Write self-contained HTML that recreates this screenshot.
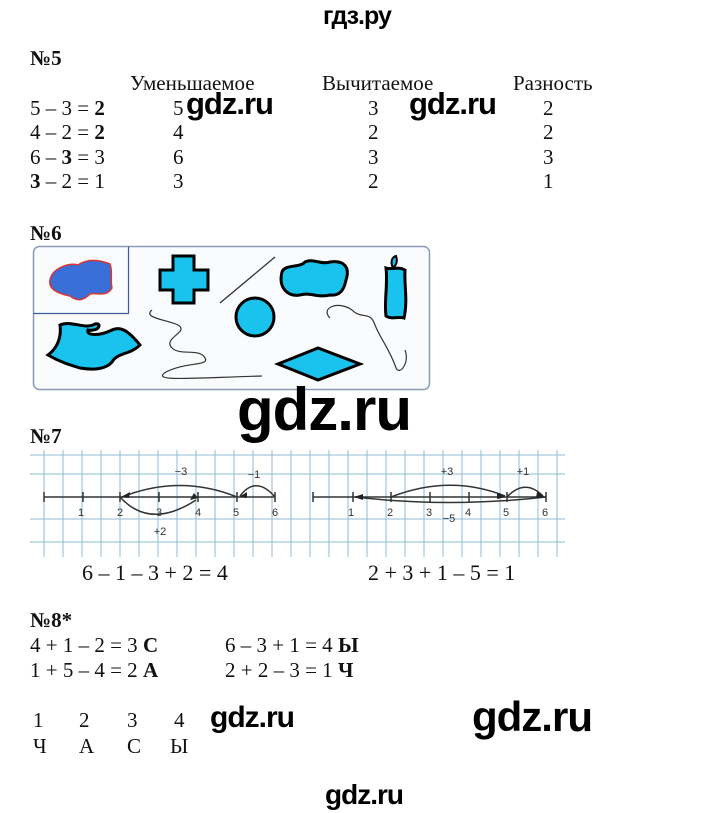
<!DOCTYPE html>
<html><head><meta charset="utf-8"><style>
body{margin:0;width:720px;height:813px;background:#fff;position:relative;overflow:hidden;font-family:"Liberation Serif",serif;color:#111}
.t{position:absolute;white-space:nowrap;font-size:21px;line-height:20px}
.w{position:absolute;white-space:nowrap;font-family:"Liberation Sans",sans-serif;font-weight:bold;color:#000;letter-spacing:-1px}
b{font-weight:bold}
</style></head><body>
<div class="w" style="left:323px;top:2px;font-size:25px;line-height:28px">гдз.ру</div>

<div class="t" style="left:30px;top:48px"><b>№5</b></div>
<div class="t" style="left:130px;top:73px">Уменьшаемое</div>
<div class="t" style="left:322px;top:73px">Вычитаемое</div>
<div class="t" style="left:513px;top:73px">Разность</div>
<div class="t" style="left:30px;top:98px">5 – 3 = <b>2</b></div>
<div class="t" style="left:30px;top:122px">4 – 2 = <b>2</b></div>
<div class="t" style="left:30px;top:147px">6 – <b>3</b> = 3</div>
<div class="t" style="left:30px;top:171px"><b>3</b> – 2 = 1</div>
<div class="t" style="left:173px;top:98px">5</div><div class="t" style="left:173px;top:122px">4</div><div class="t" style="left:173px;top:147px">6</div><div class="t" style="left:173px;top:171px">3</div>
<div class="t" style="left:368px;top:98px">3</div><div class="t" style="left:368px;top:122px">2</div><div class="t" style="left:368px;top:147px">3</div><div class="t" style="left:368px;top:171px">2</div>
<div class="t" style="left:543px;top:98px">2</div><div class="t" style="left:543px;top:122px">2</div><div class="t" style="left:543px;top:147px">3</div><div class="t" style="left:543px;top:171px">1</div>
<div class="w" style="left:186px;top:88px;font-size:31px;line-height:32px">gdz.ru</div>
<div class="w" style="left:409px;top:88px;font-size:31px;line-height:32px">gdz.ru</div>

<div class="t" style="left:30px;top:223px"><b>№6</b></div>
<svg style="position:absolute;left:0;top:0" width="720" height="813">
<rect x="33.5" y="246.5" width="396" height="143" rx="6" fill="#fafbfc" stroke="#8a9bb8" stroke-width="1.5"/>
<path d="M33.5 313.5H128.5V246.5" fill="none" stroke="#3d5a9a" stroke-width="1.2"/>
<path d="M50 280C52 268 70 262 78 265C88 258 100 260 110 264C113 272 110 280 112 288C106 298 96 292 90 294C84 300 78 302 70 296C60 294 48 290 50 280Z" fill="#3a6fd8" stroke="#d33" stroke-width="1.5"/>
<path d="M173 256H194V270H208V290H194V303H173V290H160V270H173Z" fill="#19c3ee" stroke="#000" stroke-width="3"/>
<line x1="220" y1="303" x2="275" y2="257" stroke="#333" stroke-width="1.3"/>
<path d="M282 272C285 264 300 268 305 262C312 258 322 265 330 262C345 260 350 268 346 280C344 290 340 296 330 295C318 298 310 292 300 295C288 297 278 288 282 272Z" fill="#19c3ee" stroke="#000" stroke-width="3"/>
<path d="M386 268C392 270 398 266 405 270C404 285 408 300 404 318C398 316 392 320 386 316C384 300 388 285 386 268Z" fill="#19c3ee" stroke="#000" stroke-width="3"/>
<path d="M393 268C390 262 392 257 396 256C398 262 396 265 393 268" fill="#19c3ee" stroke="#000" stroke-width="2"/>
<path d="M60 325C72 320 85 330 95 324C102 322 100 332 88 330C86 336 100 336 112 330C120 326 128 330 140 345C130 355 118 352 112 362C105 370 92 370 80 368C70 365 60 362 48 355C55 350 62 340 60 325Z" fill="#19c3ee" stroke="#000" stroke-width="3"/>
<path d="M152 310C142 318 168 320 178 325C190 332 162 338 172 348C180 356 200 348 205 358C210 366 185 362 166 372C150 382 190 378 262 376" fill="none" stroke="#333" stroke-width="1.2"/>
<circle cx="255" cy="317" r="19" fill="#19c3ee" stroke="#000" stroke-width="3"/>
<path d="M278 364L318 348L360 364L318 380Z" fill="#19c3ee" stroke="#000" stroke-width="3"/>
<path d="M330 318C320 308 338 300 352 310C362 320 370 310 375 325C380 338 390 350 396 368C400 376 410 362 405 350" fill="none" stroke="#333" stroke-width="1.2"/>
<g stroke="#8fbcd6" stroke-width="1">
<line x1="30" y1="455" x2="565" y2="455"/><line x1="30" y1="474" x2="565" y2="474"/><line x1="30" y1="519" x2="565" y2="519"/><line x1="30" y1="542" x2="565" y2="542"/>
<line x1="44" y1="450" x2="44" y2="557"/><line x1="63" y1="450" x2="63" y2="557"/><line x1="82" y1="450" x2="82" y2="557"/><line x1="101" y1="450" x2="101" y2="557"/><line x1="120" y1="450" x2="120" y2="557"/><line x1="139" y1="450" x2="139" y2="557"/><line x1="158" y1="450" x2="158" y2="557"/><line x1="177" y1="450" x2="177" y2="557"/><line x1="196" y1="450" x2="196" y2="557"/><line x1="215" y1="450" x2="215" y2="557"/><line x1="234" y1="450" x2="234" y2="557"/><line x1="253" y1="450" x2="253" y2="557"/><line x1="272" y1="450" x2="272" y2="557"/><line x1="291" y1="450" x2="291" y2="557"/><line x1="310" y1="450" x2="310" y2="557"/><line x1="329" y1="450" x2="329" y2="557"/><line x1="348" y1="450" x2="348" y2="557"/><line x1="367" y1="450" x2="367" y2="557"/><line x1="386" y1="450" x2="386" y2="557"/><line x1="405" y1="450" x2="405" y2="557"/><line x1="424" y1="450" x2="424" y2="557"/><line x1="443" y1="450" x2="443" y2="557"/><line x1="462" y1="450" x2="462" y2="557"/><line x1="481" y1="450" x2="481" y2="557"/><line x1="500" y1="450" x2="500" y2="557"/><line x1="519" y1="450" x2="519" y2="557"/><line x1="538" y1="450" x2="538" y2="557"/><line x1="557" y1="450" x2="557" y2="557"/>
</g>
<g stroke="#333" stroke-width="1.5" fill="none">
<line x1="44" y1="497" x2="275" y2="497"/><line x1="313" y1="497" x2="546" y2="497"/>
<path d="M44 492v10M83 492v10M120 492v10M159 492v10M198 492v10M237 492v10M275 492v10M313 492v10M353 492v10M391 492v10M430 492v10M469 492v10M507 492v10M546 492v10"/>
<path d="M237 497Q180 474 122 497"/><path d="M275 497Q256 475 240 496"/>
<path d="M120 497Q150 530 196 500"/>
<path d="M391 497Q450 474 505 496"/><path d="M507 497Q525 478 543 496"/>
<path d="M546 497Q450 508 355 497"/>
</g>
<g fill="#222"><path d="M121 497l9 -5l-1 6z"/><path d="M239 497l8 -5l0 6z"/><path d="M198 498l-8 2l4 -7z"/><path d="M506 497l-9 -4l0 6z"/><path d="M545 497l-8 -5l-1 6z"/><path d="M354 497l9 -3l0 6z"/></g>
<g font-family="Liberation Sans,sans-serif" font-size="11" fill="#333" text-anchor="middle">
<text x="81" y="516">1</text><text x="120" y="516">2</text><text x="159" y="516">3</text><text x="198" y="516">4</text><text x="236" y="516">5</text><text x="275" y="516">6</text>
<text x="181" y="475">−3</text><text x="254" y="478">−1</text><text x="160" y="535">+2</text>
<text x="351" y="516">1</text><text x="390" y="516">2</text><text x="429" y="516">3</text><text x="468" y="516">4</text><text x="506" y="516">5</text><text x="545" y="516">6</text>
<text x="447" y="475">+3</text><text x="523" y="475">+1</text><text x="449" y="522">−5</text>
</g>
</svg>
<div class="w" style="left:237px;top:380px;font-size:60px;line-height:60px">gdz.ru</div>
<div class="t" style="left:30px;top:426px"><b>№7</b></div>
<div class="t" style="left:82px;top:563px;font-size:22px">6 – 1 – 3 + 2 = 4</div>
<div class="t" style="left:368px;top:563px;font-size:22px">2 + 3 + 1 – 5 = 1</div>

<div class="t" style="left:30px;top:610px"><b>№8*</b></div>
<div class="t" style="left:30px;top:635px">4 + 1 – 2 = 3 <b>С</b></div>
<div class="t" style="left:225px;top:635px">6 – 3 + 1 = 4 <b>Ы</b></div>
<div class="t" style="left:30px;top:660px">1 + 5 – 4 = 2 <b>А</b></div>
<div class="t" style="left:225px;top:660px">2 + 2 – 3 = 1 <b>Ч</b></div>
<div class="t" style="left:33px;top:710px">1</div><div class="t" style="left:79px;top:710px">2</div><div class="t" style="left:127px;top:710px">3</div><div class="t" style="left:174px;top:710px">4</div>
<div class="t" style="left:33px;top:736px">Ч</div><div class="t" style="left:79px;top:736px">А</div><div class="t" style="left:127px;top:736px">С</div><div class="t" style="left:170px;top:736px">Ы</div>
<div class="w" style="left:210px;top:702px;font-size:30px;line-height:32px">gdz.ru</div>
<div class="w" style="left:472px;top:695px;font-size:42px;line-height:44px">gdz.ru</div>
<div class="w" style="left:325px;top:780px;font-size:28px;line-height:30px">gdz.ru</div>
</body></html>
